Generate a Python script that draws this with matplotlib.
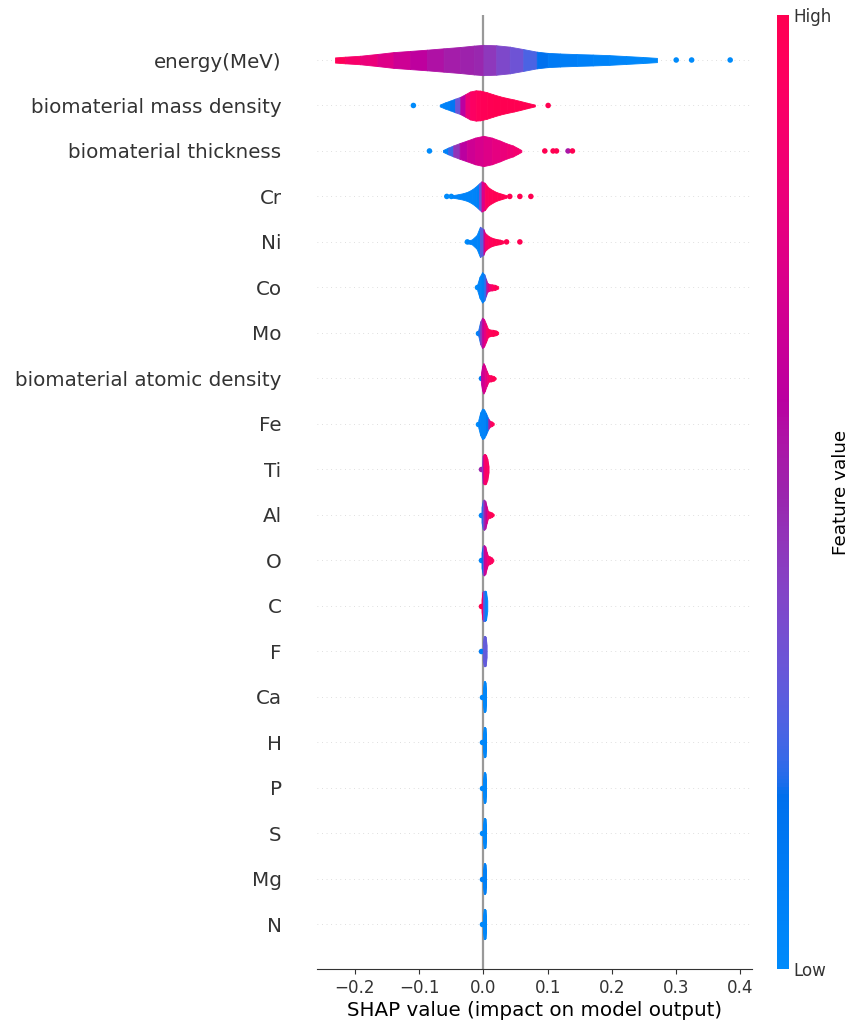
import numpy as np
import matplotlib
matplotlib.use("Agg")
import matplotlib.pyplot as plt
from matplotlib.colors import LinearSegmentedColormap
from matplotlib.cm import ScalarMappable

# ---------------------------------------------------------------------------
# Feature order (top to bottom) and per-feature violin profiles.
#   *_x : SHAP value at each outline knot
#   *_w : relative half-width of the violin at the knot (1 = full row height / 3)
#   *_c : normalised feature value (0 = low, 1 = high) at the knot
#   *_dots / *_dotc : individual outlying samples and their feature values
# ---------------------------------------------------------------------------
features = ["energy(MeV)", "biomaterial mass density", "biomaterial thickness",
            "Cr", "Ni", "Co", "Mo", "biomaterial atomic density", "Fe", "Ti",
            "Al", "O", "C", "F", "Ca", "H", "P", "S", "Mg", "N"]

energy_x = [-0.231, -0.215, -0.192, -0.165, -0.140, -0.114, -0.088, -0.062, -0.036, -0.015,
            0.000, 0.020, 0.041, 0.062, 0.083, 0.100, 0.119, 0.145, 0.170, 0.196, 0.222, 0.248, 0.270]
energy_w = [0.17, 0.22, 0.28, 0.40, 0.52, 0.60, 0.68, 0.77, 0.86, 0.95,
            1.00, 0.97, 0.88, 0.72, 0.55, 0.47, 0.43, 0.39, 0.36, 0.32, 0.26, 0.20, 0.14]
energy_c = [1.00, 0.93, 0.85, 0.77, 0.70, 0.64, 0.58, 0.54, 0.51, 0.50,
            0.48, 0.40, 0.36, 0.30, 0.20, 0.14, 0.10, 0.08, 0.06, 0.05, 0.04, 0.02, 0.00]
energy_dots = [0.300, 0.324, 0.384]
energy_dotc = [0.0, 0.0, 0.0]

mass_x = [-0.068, -0.060, -0.052, -0.044, -0.036, -0.028, -0.021, -0.012, -0.005,
          0.005, 0.015, 0.026, 0.036, 0.047, 0.057, 0.068, 0.080]
mass_w = [0.06, 0.20, 0.32, 0.45, 0.57, 0.75, 0.92, 1.00, 0.98,
          0.88, 0.74, 0.60, 0.50, 0.40, 0.30, 0.18, 0.06]
mass_c = [0.05, 0.05, 0.08, 0.20, 0.45, 0.75, 0.90, 0.95, 0.97,
          0.98, 1.00, 1.00, 1.00, 1.00, 1.00, 1.00, 1.00]
mass_dots = [-0.109, 0.1007]
mass_dotc = [0.0, 1.0]

thick_x = [-0.063, -0.055, -0.047, -0.037, -0.026, -0.013, 0.000, 0.013, 0.026, 0.036, 0.046, 0.053, 0.059]
thick_w = [0.06, 0.22, 0.36, 0.52, 0.68, 0.88, 1.00, 0.88, 0.68, 0.50, 0.36, 0.20, 0.06]
thick_c = [0.05, 0.10, 0.35, 0.55, 0.65, 0.70, 0.72, 0.76, 0.80, 0.82, 0.85, 0.87, 0.88]
thick_dots = [-0.084, 0.0955, 0.1084, 0.1137, 0.1317, 0.1385]
thick_dotc = [0.0, 1.0, 1.0, 1.0, 0.55, 1.0]

cr_x = [-0.049, -0.040, -0.031, -0.024, -0.018, -0.012, -0.007, -0.003, 0.002,
        0.0075, 0.014, 0.0205, 0.028, 0.036]
cr_w = [0.08, 0.14, 0.22, 0.32, 0.46, 0.65, 0.85, 1.00, 0.90, 0.60, 0.42, 0.28, 0.18, 0.08]
cr_c = [0.05, 0.05, 0.05, 0.05, 0.05, 0.05, 0.10, 0.55, 0.92, 0.96, 0.98, 1.00, 1.00, 1.00]
cr_dots = [-0.057, -0.050, 0.041, 0.0567, 0.0738]
cr_dotc = [0.0, 0.0, 1.0, 1.0, 1.0]

ni_x = [-0.026, -0.018, -0.0106, -0.0054, 0.000, 0.0023, 0.0075, 0.0127, 0.019, 0.0256, 0.031]
ni_w = [0.08, 0.16, 0.45, 1.00, 0.85, 0.60, 0.40, 0.28, 0.20, 0.15, 0.08]
ni_c = [0.05, 0.05, 0.05, 0.05, 0.50, 0.85, 0.95, 0.97, 1.00, 1.00, 1.00]
ni_dots = [-0.025, 0.036, 0.0567]
ni_dotc = [0.0, 1.0, 1.0]

co_x = [-0.0096, -0.006, -0.002, 0.0015, 0.004, 0.006, 0.009, 0.013, 0.018, 0.023]
co_w = [0.20, 0.70, 1.00, 0.85, 0.55, 0.30, 0.22, 0.20, 0.17, 0.07]
co_c = [0.05, 0.05, 0.05, 0.10, 0.35, 0.65, 0.80, 0.92, 0.97, 1.00]
co_dots = [-0.010]
co_dotc = [0.0]

mo_x = [-0.008, -0.005, -0.002, 0.001, 0.004, 0.007, 0.010, 0.015, 0.020, 0.023]
mo_w = [0.20, 0.75, 1.00, 0.90, 0.60, 0.28, 0.22, 0.20, 0.15, 0.06]
mo_c = [0.10, 0.30, 0.60, 0.72, 0.85, 0.95, 0.97, 0.98, 1.00, 1.00]
mo_dots = [-0.0085]
mo_dotc = [0.05]

atomic_x = [-0.004, -0.002, 0.000, 0.002, 0.005, 0.008, 0.012, 0.016, 0.019]
atomic_w = [0.30, 0.80, 1.00, 0.85, 0.50, 0.22, 0.20, 0.15, 0.05]
atomic_c = [0.60, 0.65, 0.68, 0.72, 0.78, 0.90, 0.95, 1.00, 1.00]
atomic_dots = [-0.004]
atomic_dotc = [0.1]

fe_x = [-0.008, -0.005, -0.002, 0.001, 0.004, 0.0075, 0.010, 0.013, 0.016]
fe_w = [0.25, 0.75, 1.00, 0.95, 0.70, 0.35, 0.20, 0.15, 0.06]
fe_c = [0.05, 0.05, 0.05, 0.05, 0.07, 0.20, 0.85, 0.95, 1.00]
fe_dots = [-0.0085]
fe_dotc = [0.0]

ti_x = [-0.002, -0.001, 0.0005, 0.002, 0.004, 0.006, 0.008]
ti_w = [0.30, 0.90, 1.00, 1.00, 0.95, 0.70, 0.20]
ti_c = [0.20, 0.55, 0.85, 0.90, 0.92, 0.92, 0.92]
ti_dots = [-0.0035]
ti_dotc = [0.5]

al_x = [-0.003, -0.001, 0.001, 0.003, 0.005, 0.007, 0.010, 0.013, 0.016]
al_w = [0.50, 0.95, 1.00, 0.90, 0.55, 0.25, 0.20, 0.15, 0.05]
al_c = [0.10, 0.30, 0.45, 0.55, 0.70, 0.85, 0.95, 1.00, 1.00]
al_dots = [-0.0045]
al_dotc = [0.05]

o_x = [-0.003, -0.001, 0.001, 0.003, 0.005, 0.007, 0.010, 0.013, 0.0155]
o_w = [0.50, 0.95, 1.00, 0.90, 0.55, 0.30, 0.25, 0.18, 0.05]
o_c = [0.10, 0.25, 0.55, 0.70, 0.78, 0.85, 0.92, 0.95, 0.97]
o_dots = [-0.0045]
o_dotc = [0.05]

c_x = [-0.003, -0.0015, 0.000, 0.002, 0.004, 0.006]
c_w = [0.40, 0.90, 1.00, 1.00, 0.95, 0.35]
c_c = [1.00, 0.95, 0.50, 0.05, 0.05, 0.05]
c_dots = [-0.0045]
c_dotc = [1.0]

f_x = [-0.001, 0.0005, 0.002, 0.0035, 0.005]
f_w = [0.60, 1.00, 1.00, 0.95, 0.40]
f_c = [0.30, 0.30, 0.30, 0.30, 0.30]
f_dots = [-0.003]
f_dotc = [0.1]

ca_x = [-0.0008, 0.0005, 0.0018, 0.003, 0.0038]
ca_w = [0.55, 1.00, 1.00, 0.95, 0.50]
ca_c = [0.03, 0.03, 0.03, 0.03, 0.03]
ca_dots = [-0.0018]
ca_dotc = [0.03]

h_x = [-0.0008, 0.0005, 0.0018, 0.003, 0.0038]
h_w = [0.55, 1.00, 1.00, 0.95, 0.50]
h_c = [0.03, 0.03, 0.03, 0.03, 0.03]
h_dots = [-0.0018]
h_dotc = [0.03]

p_x = [-0.0008, 0.0005, 0.0018, 0.003, 0.0038]
p_w = [0.55, 1.00, 1.00, 0.95, 0.50]
p_c = [0.03, 0.03, 0.03, 0.03, 0.03]
p_dots = [-0.0018]
p_dotc = [0.03]

s_x = [-0.0008, 0.0005, 0.0018, 0.003, 0.0038]
s_w = [0.55, 1.00, 1.00, 0.95, 0.50]
s_c = [0.03, 0.03, 0.03, 0.03, 0.03]
s_dots = [-0.0018]
s_dotc = [0.03]

mg_x = [-0.0008, 0.0005, 0.0018, 0.003, 0.0038]
mg_w = [0.55, 1.00, 1.00, 0.95, 0.50]
mg_c = [0.08, 0.08, 0.08, 0.08, 0.08]
mg_dots = [-0.0018]
mg_dotc = [0.08]

n_x = [-0.0008, 0.0005, 0.0018, 0.003, 0.0038]
n_w = [0.55, 1.00, 1.00, 0.95, 0.50]
n_c = [0.03, 0.03, 0.03, 0.03, 0.03]
n_dots = [-0.0018]
n_dotc = [0.03]

x_ticks = [-0.2, -0.1, 0.0, 0.1, 0.2, 0.3, 0.4]

profiles = [
    (energy_x, energy_w, energy_c, energy_dots, energy_dotc),
    (mass_x, mass_w, mass_c, mass_dots, mass_dotc),
    (thick_x, thick_w, thick_c, thick_dots, thick_dotc),
    (cr_x, cr_w, cr_c, cr_dots, cr_dotc),
    (ni_x, ni_w, ni_c, ni_dots, ni_dotc),
    (co_x, co_w, co_c, co_dots, co_dotc),
    (mo_x, mo_w, mo_c, mo_dots, mo_dotc),
    (atomic_x, atomic_w, atomic_c, atomic_dots, atomic_dotc),
    (fe_x, fe_w, fe_c, fe_dots, fe_dotc),
    (ti_x, ti_w, ti_c, ti_dots, ti_dotc),
    (al_x, al_w, al_c, al_dots, al_dotc),
    (o_x, o_w, o_c, o_dots, o_dotc),
    (c_x, c_w, c_c, c_dots, c_dotc),
    (f_x, f_w, f_c, f_dots, f_dotc),
    (ca_x, ca_w, ca_c, ca_dots, ca_dotc),
    (h_x, h_w, h_c, h_dots, h_dotc),
    (p_x, p_w, p_c, p_dots, p_dotc),
    (s_x, s_w, s_c, s_dots, s_dotc),
    (mg_x, mg_w, mg_c, mg_dots, mg_dotc),
    (n_x, n_w, n_c, n_dots, n_dotc),
]


# ---------------------------------------------------------------------------
# Perceptually uniform blue -> red colour scale built in CIE LCh space
# ---------------------------------------------------------------------------
def lch_to_rgb(l, c, h):
    a, b = c * np.cos(h), c * np.sin(h)
    fy = (l + 16.0) / 116.0
    fx = a / 500.0 + fy
    fz = max(fy - b / 200.0, 0.0)

    def finv(t):
        return t ** 3 if t > 0.2068966 else (t - 16.0 / 116.0) / 7.787

    xyz = np.array([finv(fx) * 0.95047, finv(fy) * 1.0, finv(fz) * 1.08883])
    m = np.array([[3.24048134, -1.53715152, -0.49853633],
                  [-0.96925495, 1.87599, 0.04155593],
                  [0.05564664, -0.20404134, 1.05731107]])
    rgb = m @ xyz
    rgb = np.where(rgb > 0.0031308, 1.055 * np.power(np.clip(rgb, 0, None), 1 / 2.4) - 0.055, 12.92 * rgb)
    return np.clip(rgb, 0, 1)


blue_lch = (54.0, 70.0, 4.6588)
red_lch = (54.0, 90.0, 0.35470565 + 2 * np.pi)
l_mid = 40.0
nsteps = 100
l_vals = list(np.linspace(blue_lch[0], l_mid, nsteps // 2)) + list(np.linspace(l_mid, red_lch[0], nsteps // 2))
c_vals = np.linspace(blue_lch[1], red_lch[1], nsteps)
h_vals = np.linspace(blue_lch[2], red_lch[2], nsteps)
red_blue = LinearSegmentedColormap.from_list(
    "red_blue", [lch_to_rgb(l, c, h) for l, c, h in zip(l_vals, c_vals, h_vals)])

axis_color = "#333333"
fs_label = 14.3
fs_tick = 12.1

# ---------------------------------------------------------------------------
# Figure
# ---------------------------------------------------------------------------
fig = plt.figure(figsize=(8.51, 10.23), dpi=100)
ax = fig.add_axes([0.3725, 0.0523, 0.5112, 0.9335])

n = len(features)
ax.axvline(x=0, color="#999999", zorder=-1, lw=1.6)

for row, (name, prof) in enumerate(zip(features, profiles)):
    pos = n - 1 - row
    xs, ws, cs, dots, dotc = prof
    ax.axhline(y=pos, color="#cccccc", lw=0.55, dashes=(1, 5), zorder=-1)

    ax.scatter(dots, np.full(len(dots), pos), c=dotc, cmap=red_blue, vmin=0, vmax=1,
               s=16, linewidth=0, zorder=1)

    for i in range(len(xs) - 1):
        cv = 0.5 * (cs[i] + cs[i + 1])
        ax.fill_between([xs[i], xs[i + 1]],
                        [pos + ws[i] / 3, pos + ws[i + 1] / 3],
                        [pos - ws[i] / 3, pos - ws[i + 1] / 3],
                        color=red_blue(cv), lw=0.6, zorder=2)

ax.set_xlim(-0.259, 0.418)
ax.set_ylim(-1, n)
ax.set_yticks(range(n))
ax.set_yticklabels(features[::-1], fontsize=fs_label)
ax.set_xticks(x_ticks)
ax.set_xlabel("SHAP value (impact on model output)", fontsize=fs_label, labelpad=3)

ax.xaxis.set_ticks_position("bottom")
ax.yaxis.set_ticks_position("none")
ax.tick_params("y", length=22, width=0.5, which="major")
ax.tick_params(color=axis_color, labelcolor=axis_color)
ax.tick_params("x", labelsize=fs_tick)
for side in ("right", "top", "left"):
    ax.spines[side].set_visible(False)
ax.spines["bottom"].set_color(axis_color)

# Colour bar for the feature value
cax = fig.add_axes([0.9125, 0.0523, 0.0141, 0.9335])
sm = ScalarMappable(cmap=red_blue)
sm.set_array([0, 1])
cb = fig.colorbar(sm, cax=cax, ticks=[0, 1])
cb.set_ticklabels(["Low", "High"])
cb.set_label("Feature value", size=13.2, labelpad=0)
cb.ax.tick_params(labelsize=fs_tick, length=0, labelcolor=axis_color)
cb.outline.set_visible(False)

fig.savefig("out.png", dpi=100)
